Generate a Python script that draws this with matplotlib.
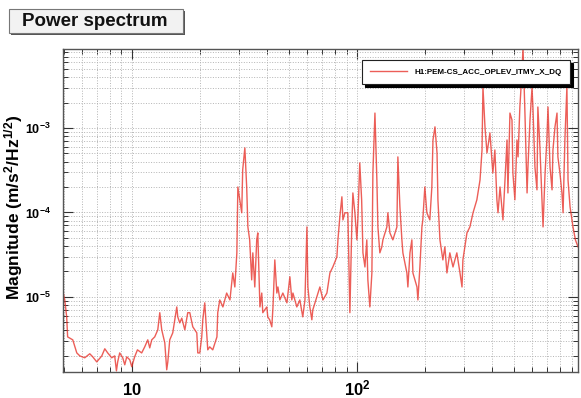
import matplotlib
matplotlib.use("Agg")
import matplotlib.pyplot as plt
from matplotlib.patches import Rectangle

plt.rcParams['font.family'] = ['Liberation Sans', 'DejaVu Sans']
plt.rcParams['font.weight'] = 'bold'
plt.rcParams['mathtext.fontset'] = 'custom'
plt.rcParams['mathtext.rm'] = 'Liberation Sans:bold'
plt.rcParams['mathtext.bf'] = 'Liberation Sans:bold'
plt.rcParams['mathtext.it'] = 'Liberation Sans:bold'
plt.rcParams['mathtext.default'] = 'bf'

channel = "H1:PEM-CS_ACC_OPLEV_ITMY_X_DQ"

# ASD of the accelerometer, Hz vs m/s^2/rtHz
freq = [
    4.95, 5.04, 5.14, 5.19, 5.47, 5.70, 5.88, 6.18, 6.51, 6.71, 6.99, 7.36, 7.59,
    7.82, 8.15, 8.40, 8.55, 8.66, 8.84, 9.12, 9.31, 9.50, 9.80, 10.0, 10.3, 10.6,
    11.07, 11.42, 11.78, 12.02, 12.27, 12.65, 13.05, 13.32, 13.59, 14.02, 14.30,
    14.46, 14.75, 15.21, 15.85, 16.01, 16.34, 16.68, 17.21, 17.73, 18.11, 18.67,
    19.45, 19.65, 20.05, 20.46, 20.68, 21.1, 21.53, 21.76, 22.2, 22.9, 23.9, 24.1,
    24.6, 25.4, 26.4, 27.3, 28.1, 28.7, 29.3, 29.6, 30.2, 30.8, 31.1, 31.8, 32.4,
    32.8, 33.4, 34.1, 34.5, 35.2, 35.9, 36.3, 37.1, 37.8, 38.2, 39.8, 40.2, 41.0,
    41.9, 42.4, 43.2, 44.1, 44.6, 45.5, 46.9, 48.9, 50.4, 51.4, 52.0, 54.1, 55.8,
    57.5, 58.8, 60.0, 60.6, 61.8, 63.1, 63.7, 66.4, 68.5, 70.7, 73.6, 75.9, 78.2,
    81.5, 82.4, 84.0, 85.8, 86.7, 88.5, 91.2, 93.1, 95.0, 96.0, 98.0, 100.0, 101,
    103, 105, 106.4, 108.6, 110.7, 111.9, 114.2, 116.6, 117.8, 120.3, 122.7, 124.0,
    126.5, 129.1, 130.5, 135.9, 137.3, 140.2, 144.5, 150.6, 152.1, 155.3, 158.5,
    160.1, 166.8, 168.5, 172.1, 175.5, 177.4, 184.9, 186.7, 190.5, 194.5, 196.3,
    200.4, 204.6, 210.9, 215.3, 217.8, 222.3, 227.0, 229.1, 233.9, 241.0, 246.0,
    251.2, 258.8, 267.3, 278.0, 287.1, 293.1, 295.8, 308.3, 317.7, 328.1, 341.2,
    352.4, 359.7, 363.1, 370.7, 378.4, 382.0, 390.0, 398.1, 401.8, 410.2, 418.8,
    423.6, 432.5, 440.6, 445.6, 455.0, 464.5, 468.8, 478.6, 488.7, 493.2, 503.5,
    514.0, 520.0, 529.7, 540.8, 547.0, 558.5, 570.2, 575.4, 587.5, 599.8, 605.3,
    618.0, 631.0, 636.8, 650.1, 663.7, 671.4, 685.5, 698.2, 706.3, 721.1, 736.2,
    743.0, 758.6, 774.5, 781.6, 798.0, 814.7, 824.1, 839.5, 857.0, 866.9, 885.1,
    912.0, 935.0, 960.0,
]
asd = [
    1.15e-5, 9.2e-6, 5.8e-6, 3.36e-6, 3.1e-6, 2.17e-6, 2.0e-6, 1.9e-6, 2.12e-6,
    1.95e-6, 1.7e-6, 2.0e-6, 2.43e-6, 2.17e-6, 1.9e-6, 2.0e-6, 1.33e-6, 1.7e-6,
    2.17e-6, 1.9e-6, 1.57e-6, 1.95e-6, 1.8e-6, 1.49e-6, 1.95e-6, 2.36e-6, 2.17e-6,
    2.56e-6, 3.1e-6, 2.49e-6, 3.1e-6, 3.36e-6, 4.07e-6, 6.5e-6, 4.07e-6, 2.86e-6,
    1.37e-6, 1.7e-6, 3.1e-6, 3.75e-6, 7.6e-6, 5.8e-6, 4.92e-6, 5.6e-6, 4.07e-6,
    6.5e-6, 6.5e-6, 4.42e-6, 3.75e-6, 2.17e-6, 2.17e-6, 3.36e-6, 5.35e-6, 8.5e-6,
    3.75e-6, 2.36e-6, 2.56e-6, 2.36e-6, 3.36e-6, 6.5e-6, 9.2e-6, 7.6e-6, 1.11e-5,
    9.2e-6, 1.92e-5, 1.31e-5, 3.32e-5, 2.0e-4, 1.41e-4, 9.9e-5, 3.18e-4, 5.8e-4,
    2.0e-4, 6.73e-5, 4.73e-5, 1.59e-5, 3.32e-5, 1.31e-5, 4.73e-5, 5.72e-5, 7.6e-6,
    1.11e-5, 6.5e-6, 7.6e-6, 5.8e-6, 5.35e-6, 4.42e-6, 7.6e-6, 2.74e-5, 1.11e-5,
    1.31e-5, 9.2e-6, 1.11e-5, 8.5e-6, 1.73e-5, 9.2e-6, 1.11e-5, 7.6e-6, 9.2e-6,
    5.8e-6, 9.2e-6, 6.73e-5, 1.31e-5, 7.6e-6, 5.35e-6, 7.0e-6, 1.0e-5, 1.31e-5,
    9.2e-6, 1.11e-5, 1.92e-5, 2.26e-5, 2.97e-5, 4.73e-5, 8.85e-5, 1.53e-4, 8.15e-5,
    9.9e-5, 9.9e-5, 6.5e-6, 7.51e-5, 1.7e-4, 9.9e-5, 4.73e-5, 8.15e-5, 3.85e-4,
    1.41e-4, 3.32e-5, 2.26e-5, 4.73e-5, 1.59e-5, 7.6e-6, 1.92e-5, 2.93e-4, 1.5e-3,
    2.42e-4, 6.73e-5, 3.32e-5, 3.91e-5, 4.73e-5, 6.73e-5, 9.9e-5, 5.72e-5, 4.73e-5,
    6.73e-5, 4.54e-4, 1.16e-4, 4.73e-5, 3.32e-5, 1.92e-5, 1.31e-5, 3.32e-5, 4.73e-5,
    1.92e-5, 1.31e-5, 9.2e-6, 2.26e-5, 6.73e-5, 8.15e-5, 2.0e-4, 9.9e-5, 8.15e-5,
    2.0e-4, 7.21e-4, 1.03e-3, 5.06e-4, 1.41e-4, 4.73e-5, 2.74e-5, 3.91e-5, 1.92e-5,
    3.32e-5, 2.26e-5, 3.32e-5, 1.92e-5, 1.31e-5, 2.74e-5, 5.72e-5, 6.73e-5, 9.9e-5,
    1.41e-4, 2.42e-4, 5.49e-4, 3.06e-3, 1.03e-3, 5.06e-4, 5.96e-4, 8.73e-4, 4.18e-4,
    2.93e-4, 5.49e-4, 1.41e-4, 9.9e-5, 2.0e-4, 1.16e-4, 8.15e-5, 2.42e-4, 7.21e-4,
    1.7e-4, 1.5e-3, 1.24e-3, 2.93e-4, 1.41e-4, 7.21e-4, 4.54e-4, 1.77e-3, 4.47e-3,
    9.0e-3, 1.35e-3, 1.7e-4, 3.45e-4, 1.24e-3, 3.0e-3, 1.77e-3, 3.45e-4, 1.85e-4,
    1.77e-3, 5.96e-4, 1.41e-4, 6.73e-5, 2.93e-4, 7.21e-4, 1.77e-3, 3.45e-4, 1.85e-4,
    5.49e-4, 1.03e-3, 1.5e-3, 4.54e-4, 2.93e-4, 1.7e-4, 9.9e-5, 7.21e-4, 3.06e-3,
    2.42e-4, 1.16e-4, 6.73e-5, 4.73e-5, 3.91e-5,
]

xmajor = [10, 100]
xmajor_labels = [r'$10$', r'$10^2$']
ymajor = [1e-5, 1e-4, 1e-3]
ymajor_labels = [r'$10^{-5}$', r'$10^{-4}$', r'$10^{-3}$']

fig = plt.figure(figsize=(5.81, 3.98), dpi=100)
ax = fig.add_axes([63 / 581, 1 - 372 / 398, 515 / 581, 323 / 398])

ax.plot(freq, asd, color='#e8362e', lw=1.0, alpha=0.8, label=channel)

ax.set_xscale('log')
ax.set_yscale('log')
ax.set_xlim(4.95, 960)
ax.set_ylim(1.29e-6, 8.6e-3)

ax.set_xticks(xmajor, xmajor_labels)
ax.set_yticks(ymajor, ymajor_labels)
ax.xaxis.set_minor_locator(matplotlib.ticker.LogLocator(base=10, subs=range(2, 10)))
ax.yaxis.set_minor_locator(matplotlib.ticker.LogLocator(base=10, subs=range(2, 10)))
ax.xaxis.set_minor_formatter(matplotlib.ticker.NullFormatter())
ax.yaxis.set_minor_formatter(matplotlib.ticker.NullFormatter())

ax.tick_params(which='both', direction='in', top=True, right=True, color='#333333')
ax.tick_params(which='major', length=7, width=0.8)
ax.tick_params(which='minor', length=3.5, width=0.7)
ax.tick_params(axis='x', which='major', labelsize=12, pad=16.5)
ax.tick_params(axis='y', which='major', labelsize=9, pad=9)
for lab in ax.get_xticklabels():
    lab.set_verticalalignment('baseline')
ax.grid(True, which='both', ls=':', color='#b4b4b4', lw=0.7)
for s in ax.spines.values():
    s.set_color('#555555')
    s.set_linewidth(1.0)

ax.set_ylabel(r'Magnitude (m/s$^2$/Hz$^{1/2}$)', fontsize=12.5, fontweight='bold')
ax.yaxis.set_label_coords(-0.074, 0.51)

leg = ax.legend(loc='upper right', bbox_to_anchor=(507 / 515, 1 - 11 / 323),
                borderaxespad=0, fontsize=5.8, handlelength=4.6, handletextpad=0.9,
                borderpad=1.0, fancybox=False, framealpha=1,
                shadow={'color': 'black', 'alpha': 1})
leg.get_frame().set_edgecolor('#222222')
leg.get_frame().set_linewidth(0.8)
for t in leg.get_texts():
    t.set_fontweight('bold')

# title pave with drop shadow
fig.patches.append(Rectangle((11 / 581, 1 - 35 / 398), 174 / 581, 24 / 398,
                             transform=fig.transFigure, facecolor='#555555',
                             edgecolor='none'))
fig.patches.append(Rectangle((9 / 581, 1 - 33 / 398), 174 / 581, 24 / 398,
                             transform=fig.transFigure, facecolor='#f2f2f2',
                             edgecolor='#777777', lw=0.8))
fig.text(22 / 581, 1 - 21 / 398, 'Power spectrum', fontsize=13.5,
         fontweight='bold', va='center', ha='left', color='#111111')

fig.savefig('out.png', dpi=100)
